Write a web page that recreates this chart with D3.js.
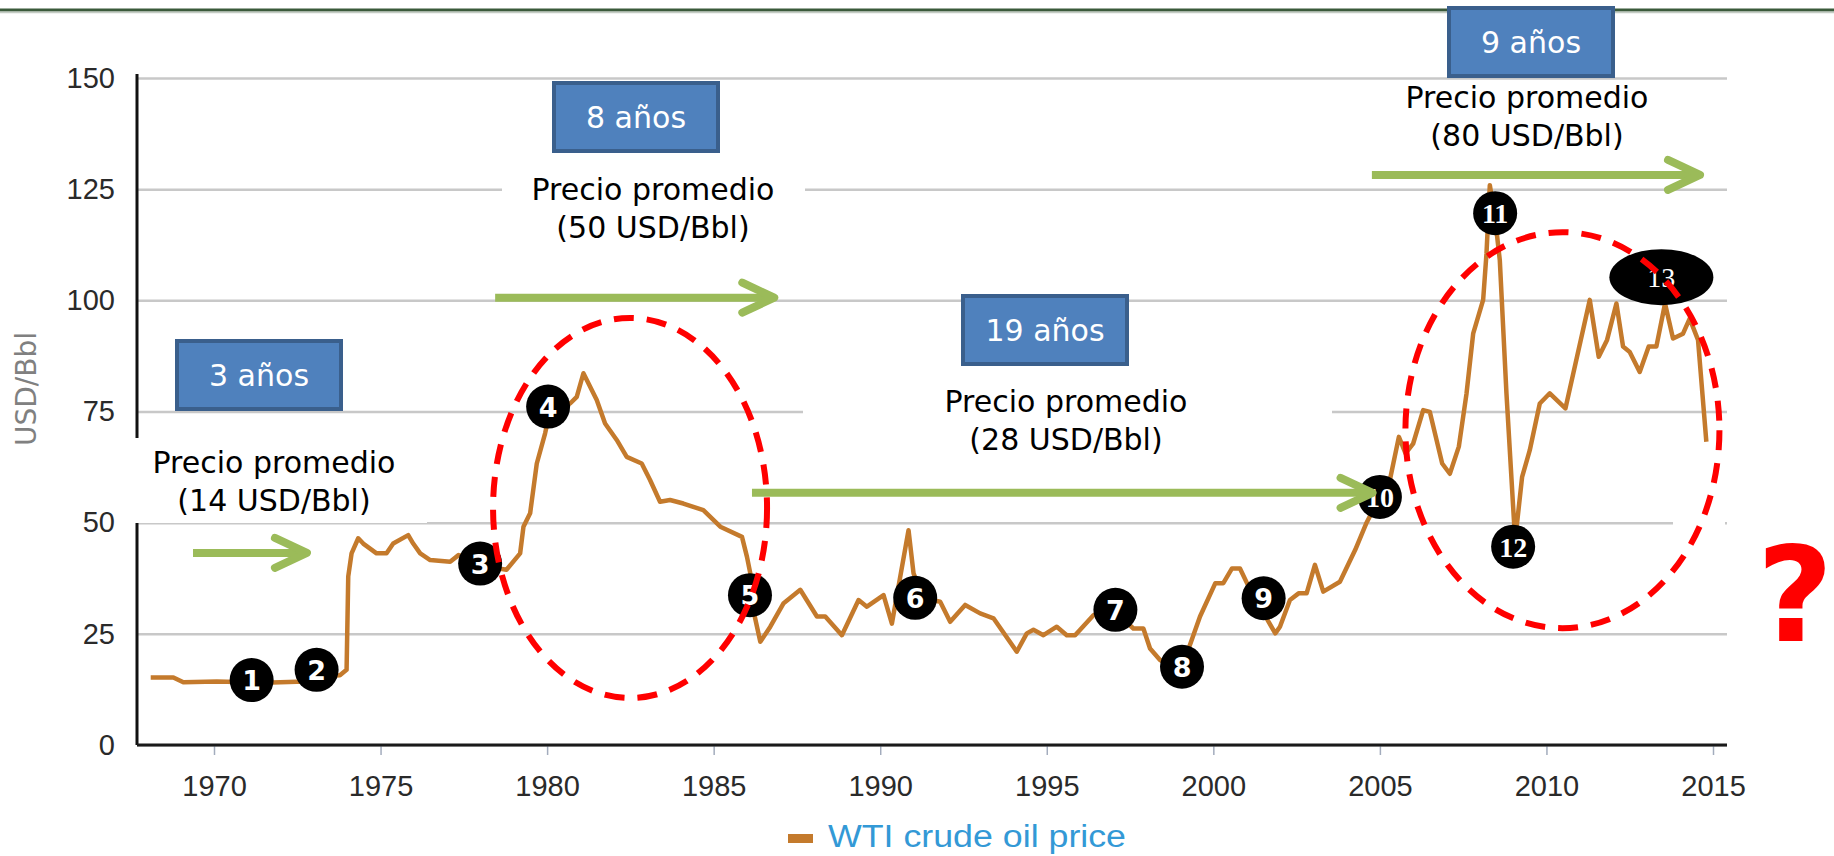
<!DOCTYPE html>
<html>
<head>
<meta charset="utf-8">
<script src="https://cdn.jsdelivr.net/npm/d3@7"></script>
<style>
  body { margin: 0; background: #fff; }
  svg { display: block; }
</style>
</head>
<body>
<div id="chart"></div>
<script>
var years = [1968.1, 1968.78, 1969.08, 1970.08, 1971.5, 1972.48, 1972.9, 1973.4, 1973.78, 1973.98,
  1974.03, 1974.13, 1974.33, 1974.48, 1974.88, 1975.18, 1975.38, 1975.83, 1975.98, 1976.19,
  1976.49, 1977.09, 1977.34, 1977.7, 1978.3, 1978.78, 1979.19, 1979.29, 1979.49, 1979.69,
  1979.94, 1980.1, 1980.69, 1980.89, 1981.09, 1981.49, 1981.74, 1982.09, 1982.39, 1982.84,
  1983.09, 1983.39, 1983.69, 1984.09, 1984.69, 1985.2, 1985.85, 1986.0, 1986.1, 1986.2,
  1986.4, 1986.7, 1987.1, 1987.6, 1988.1, 1988.35, 1988.85, 1989.35, 1989.6, 1990.1,
  1990.35, 1990.85, 1991.0, 1991.3, 1991.8, 1992.1, 1992.55, 1993.0, 1993.4, 1994.1,
  1994.4, 1994.6, 1994.9, 1995.3, 1995.6, 1995.85, 1996.4, 1996.9, 1997.6, 1997.9,
  1998.1, 1998.4, 1998.8, 1999.26, 1999.6, 2000.06, 2000.3, 2000.56, 2000.8, 2001.1,
  2001.86, 2002.0, 2002.3, 2002.56, 2002.8, 2003.05, 2003.3, 2003.8, 2004.26, 2004.6,
  2005.0, 2005.3, 2005.57, 2005.77, 2006.0, 2006.3, 2006.5, 2006.87, 2007.1, 2007.37,
  2007.6, 2007.8, 2008.1, 2008.2, 2008.3, 2008.45, 2008.6, 2008.8, 2009.06, 2009.27,
  2009.5, 2009.8, 2010.1, 2010.57, 2011.3, 2011.57, 2011.82, 2012.1, 2012.3, 2012.5,
  2012.8, 2013.07, 2013.3, 2013.56, 2013.8, 2014.1, 2014.3, 2014.55, 2014.8];
var prices = [15.2, 15.2, 14.1, 14.3, 14.0, 14.2, 14.2, 15.5, 15.7, 16.9,
  37.9, 43.1, 46.5, 45.3, 43.1, 43.1, 45.3, 47.2, 45.3, 43.1,
  41.6, 41.2, 42.7, 42.0, 40.0, 39.4, 43.1, 49.1, 52.1, 63.3,
  70.1, 75.5, 76.8, 78.3, 83.6, 77.6, 72.3, 68.6, 64.8, 63.3,
  59.6, 54.7, 55.1, 54.3, 52.8, 49.1, 46.8, 42.3, 38.6, 30.0,
  23.2, 26.6, 31.9, 34.9, 28.9, 28.9, 24.7, 32.6, 31.1, 33.7,
  27.3, 48.3, 38.6, 33.0, 32.2, 27.7, 31.5, 29.6, 28.5, 21.0,
  25.1, 25.9, 24.7, 26.6, 24.7, 24.7, 29.2, 31.0, 26.2, 26.2,
  21.7, 19.1, 17.5, 21.7, 28.9, 36.4, 36.4, 39.7, 39.7, 35.0,
  25.1, 26.6, 32.6, 34.1, 34.1, 40.5, 34.5, 36.7, 43.9, 50.0,
  55.8, 59.6, 69.3, 65.6, 67.8, 75.3, 74.9, 63.3, 61.0, 67.1,
  79.0, 92.5, 100.1, 110.5, 125.9, 119.0, 109.0, 79.0, 46.0, 60.3,
  66.3, 76.8, 79.1, 75.7, 100.1, 87.3, 91.1, 99.3, 89.6, 88.4,
  83.9, 89.6, 89.6, 99.3, 91.4, 92.5, 95.9, 91.1, 68.2];

var xTicks = [1970, 1975, 1980, 1985, 1990, 1995, 2000, 2005, 2010, 2015];
var yTicks = [0, 25, 50, 75, 100, 125, 150];

// numbered event markers
var markerLabels = ['1', '2', '3', '4', '5', '6', '7', '8', '9', '10', '11', '12', '13'];
var markerYears = [1971.13, 1973.08, 1977.99, 1980.03, 1986.09, 1991.05, 1997.06, 1999.06, 2001.51, 2005.0, 2008.46, 2009.0, 2013.45];
var markerPrices = [14.6, 16.9, 40.8, 76.1, 33.7, 33.1, 30.4, 17.6, 33.0, 55.8, 119.6, 44.6, 105.2];

// periods
var periodLabels = ['3 años', '8 años', '19 años', '9 años'];
var avgPrices = [14, 50, 28, 80];
var seriesName = 'WTI crude oil price';
var yTitle = 'USD/Bbl';

var W = 1834, H = 856;
var margin = {left: 137, right: 1727, top: 78, bottom: 745};

var x = d3.scaleLinear().domain([1970, 2015]).range([214, 1713]);
var y = d3.scaleLinear().domain([0, 150]).range([margin.bottom, margin.top]);

var svg = d3.select('#chart').append('svg')
    .attr('width', W)
    .attr('height', H);

// top rule
svg.append('line').attr('x1', 0).attr('x2', W).attr('y1', 10).attr('y2', 10)
    .attr('stroke', '#3b5a3b').attr('stroke-width', 3);
svg.append('line').attr('x1', 0).attr('x2', W).attr('y1', 12.5).attr('y2', 12.5)
    .attr('stroke', '#c4ccc4').attr('stroke-width', 1.5);

// y grid + labels
var yAxis = svg.append('g')
    .attr('transform', 'translate(' + margin.left + ',0)')
    .call(d3.axisLeft(y).tickValues(yTicks).tickSize(-(margin.right - margin.left)).tickPadding(22));
yAxis.select('.domain').remove();
yAxis.selectAll('.tick line').attr('stroke', '#c8c8c8').attr('stroke-width', 2.5);
yAxis.selectAll('.tick text')
    .attr('font-family', 'Liberation Sans, Arial, sans-serif')
    .attr('font-size', 29)
    .attr('fill', '#2a2a2a');

// y axis line
svg.append('line')
    .attr('x1', margin.left).attr('x2', margin.left)
    .attr('y1', y(150) - 4).attr('y2', margin.bottom)
    .attr('stroke', '#111').attr('stroke-width', 3);

// x axis
var xAxis = svg.append('g')
    .attr('transform', 'translate(0,' + margin.bottom + ')')
    .call(d3.axisBottom(x).tickValues(xTicks).tickFormat(d3.format('d')).tickSize(10).tickPadding(20));
xAxis.select('.domain').remove();
xAxis.selectAll('.tick line').attr('stroke', '#a3acbd').attr('stroke-width', 1.5);
xAxis.selectAll('.tick text')
    .attr('font-family', 'Liberation Sans, Arial, sans-serif')
    .attr('font-size', 29)
    .attr('fill', '#2a2a2a');
svg.append('line')
    .attr('x1', margin.left).attr('x2', margin.right)
    .attr('y1', margin.bottom).attr('y2', margin.bottom)
    .attr('stroke', '#1a1a1a').attr('stroke-width', 3);

// white patches behind the text blocks (they hide bits of the grid)
var patches = [[128, 438, 299, 85], [502, 158, 303, 88], [803, 382, 529, 76], [1673, 482, 52, 56]];
svg.append('g').selectAll('rect').data(patches).enter().append('rect')
    .attr('x', function(d){ return d[0]; })
    .attr('y', function(d){ return d[1]; })
    .attr('width', function(d){ return d[2]; })
    .attr('height', function(d){ return d[3]; })
    .attr('fill', '#fff');

// y title
svg.append('text')
    .attr('transform', 'translate(36,389) rotate(-90)')
    .attr('text-anchor', 'middle')
    .attr('font-family', 'DejaVu Sans, sans-serif')
    .attr('font-size', 28)
    .attr('fill', '#808080')
    .text(yTitle);

// price line
var series = years.map(function(d, i){ return {year: d, price: prices[i]}; });
var line = d3.line()
    .x(function(d){ return x(d.year); })
    .y(function(d){ return y(d.price); });
svg.append('path')
    .datum(series)
    .attr('d', line)
    .attr('fill', 'none')
    .attr('stroke', '#c47a2c')
    .attr('stroke-width', 4.5)
    .attr('stroke-linejoin', 'round');

// markers
var markers = markerLabels.map(function(d, i){ return {label: d, year: markerYears[i], price: markerPrices[i]}; });
var mk = svg.append('g').selectAll('g').data(markers).enter().append('g')
    .attr('transform', function(d){ return 'translate(' + x(d.year) + ',' + y(d.price) + ')'; });
mk.append('ellipse')
    .attr('rx', function(d){ return d.label === '13' ? 52 : 22; })
    .attr('ry', function(d){ return d.label === '13' ? 28 : 22; })
    .attr('fill', '#000');
mk.append('text')
    .attr('text-anchor', 'middle')
    .attr('dy', 10)
    .attr('font-family', function(d){ return d.label.length > 1 ? 'Liberation Serif, serif' : 'DejaVu Sans, sans-serif'; })
    .attr('font-weight', function(d){ return d.label === '13' ? 'normal' : 'bold'; })
    .attr('font-size', function(d){ return d.label === '13' ? 28 : d.label.length > 1 ? 28 : 27; })
    .attr('fill', '#fff')
    .text(function(d){ return d.label; });

// green arrows [start year, end year, price level]
var arrows = [[1969.37, 1972.79, 43.2], [1978.44, 1986.82, 100.6], [1986.15, 2004.78, 56.7], [2004.76, 2014.61, 128.2]];
var ag = svg.append('g').attr('stroke', '#9bbb59').attr('stroke-width', 8).attr('fill', 'none');
arrows.forEach(function(a){
    var x0 = x(a[0]), x1 = x(a[1]), yy = y(a[2]);
    ag.append('line').attr('x1', x0).attr('x2', x1 - 3).attr('y1', yy).attr('y2', yy);
    ag.append('path')
        .attr('d', 'M' + (x1 - 32) + ',' + (yy - 15) + 'L' + x1 + ',' + yy + 'L' + (x1 - 32) + ',' + (yy + 15))
        .attr('stroke-linecap', 'round')
        .attr('stroke-linejoin', 'round');
});

// red dashed ellipses [centre year, centre price, rx, ry]
var rings = [[1982.49, 53.3, 137, 190], [2010.48, 70.8, 157, 198]];
svg.append('g').selectAll('ellipse').data(rings).enter().append('ellipse')
    .attr('cx', function(d){ return x(d[0]); })
    .attr('cy', function(d){ return y(d[1]); })
    .attr('rx', function(d){ return d[2]; })
    .attr('ry', function(d){ return d[3]; })
    .attr('fill', 'none')
    .attr('stroke', '#ff0000')
    .attr('stroke-width', 6)
    .attr('stroke-dasharray', '20 13');

// period boxes [cx, cy]
var boxPos = [[259, 375], [636, 117], [1045, 330], [1531, 42]];
var bx = svg.append('g').selectAll('g').data(periodLabels).enter().append('g')
    .attr('transform', function(d, i){ return 'translate(' + boxPos[i][0] + ',' + boxPos[i][1] + ')'; });
bx.append('rect')
    .attr('x', -82).attr('y', -34).attr('width', 164).attr('height', 68)
    .attr('fill', '#4f81bd')
    .attr('stroke', '#3a5f8c')
    .attr('stroke-width', 4);
bx.append('text')
    .attr('text-anchor', 'middle')
    .attr('dy', 11)
    .attr('font-family', 'DejaVu Sans, sans-serif')
    .attr('font-size', 30)
    .attr('fill', '#fff')
    .text(function(d){ return d; });

// average price texts [cx, first baseline]
var avgPos = [[274, 473], [653, 200], [1066, 412], [1527, 108]];
var at = svg.append('g').selectAll('text').data(avgPrices).enter().append('text')
    .attr('text-anchor', 'middle')
    .attr('font-family', 'DejaVu Sans, sans-serif')
    .attr('font-size', 30)
    .attr('fill', '#000')
    .attr('transform', function(d, i){ return 'translate(' + avgPos[i][0] + ',' + avgPos[i][1] + ')'; });
at.append('tspan').attr('x', 0).attr('y', 0).text('Precio promedio');
at.append('tspan').attr('x', 0).attr('y', 38).text(function(d){ return '(' + d + ' USD/Bbl)'; });

// question mark
svg.append('text')
    .attr('x', 1795).attr('y', 641)
    .attr('text-anchor', 'middle')
    .attr('font-family', 'DejaVu Sans, sans-serif')
    .attr('font-weight', 'bold')
    .attr('font-size', 132)
    .attr('fill', '#ff0000')
    .text('?');

// legend
svg.append('rect')
    .attr('x', 788).attr('y', 834).attr('width', 25).attr('height', 9)
    .attr('fill', '#c47a2c');
svg.append('text')
    .attr('x', 828).attr('y', 847)
    .attr('font-family', 'Liberation Sans, Arial, sans-serif')
    .attr('font-size', 31)
    .attr('textLength', 298)
    .attr('lengthAdjust', 'spacingAndGlyphs')
    .attr('fill', '#3399d6')
    .text(seriesName);
</script>
</body>
</html>
